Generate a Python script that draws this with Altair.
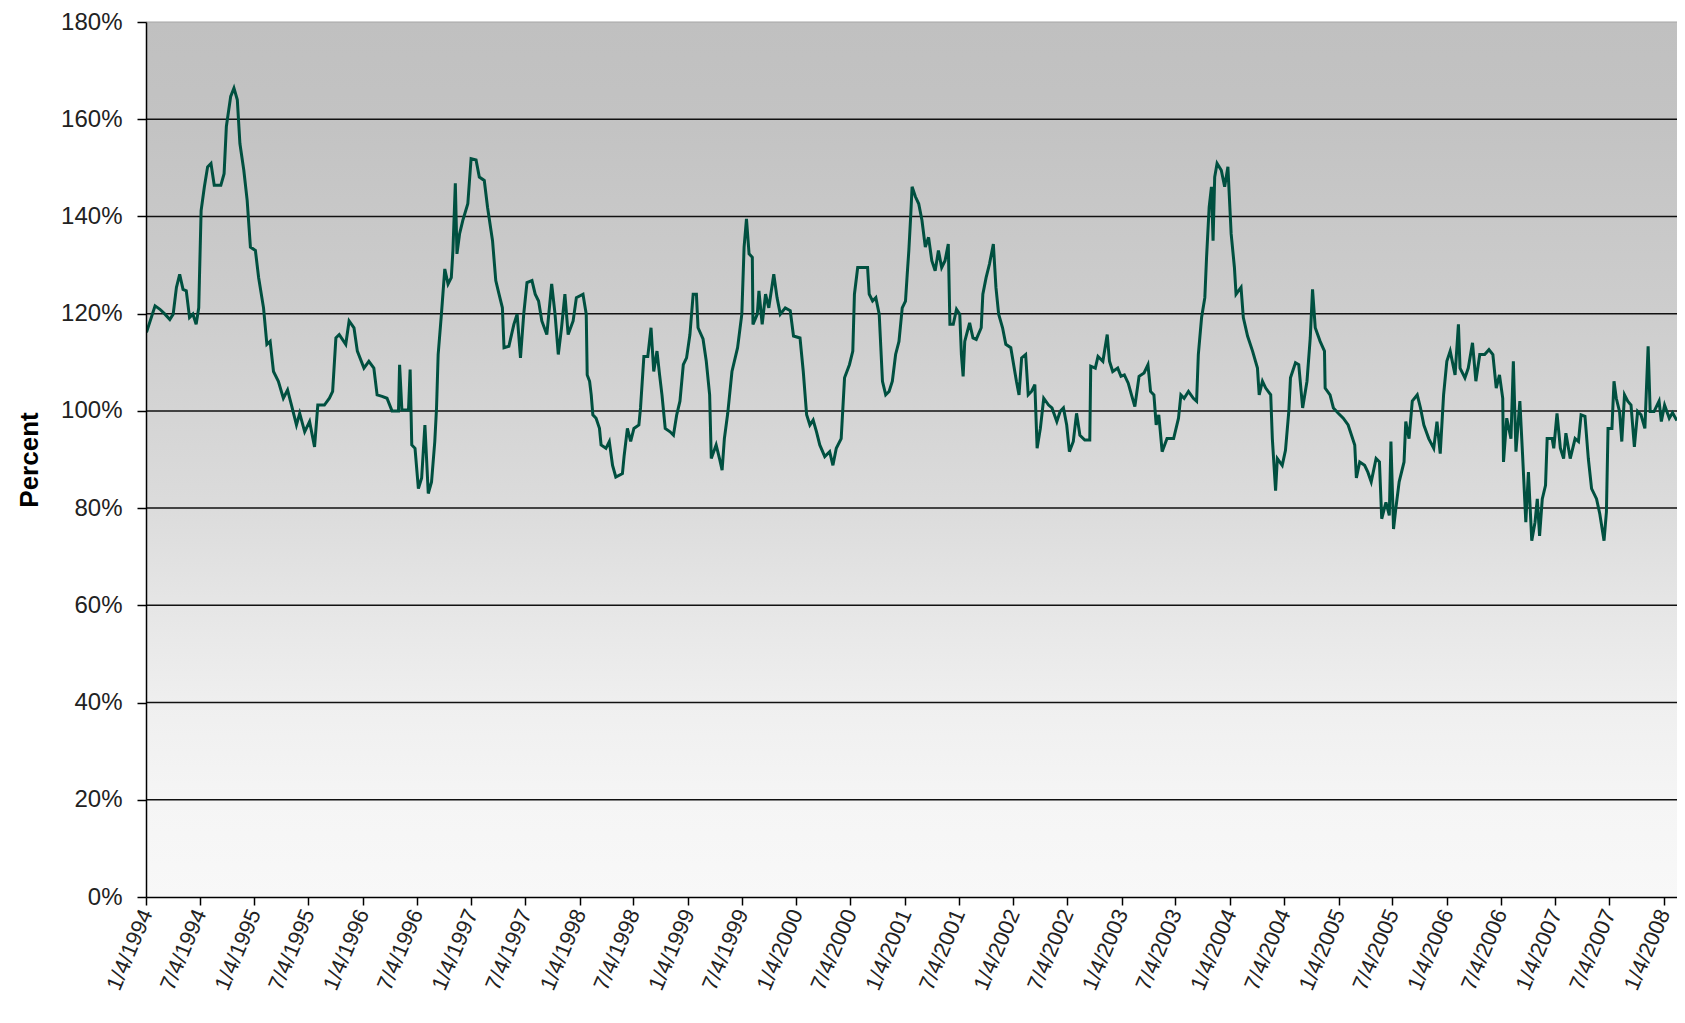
import altair as alt
import pandas as pd

years = [
    1994.000, 1994.016, 1994.092, 1994.137, 1994.183, 1994.228, 1994.259, 1994.289, 1994.319, 1994.350,
    1994.380, 1994.410, 1994.441, 1994.471, 1994.495, 1994.501, 1994.517, 1994.547, 1994.577, 1994.608,
    1994.638, 1994.699, 1994.729, 1994.750, 1994.790, 1994.820, 1994.851, 1994.875, 1994.911, 1994.942,
    1994.972, 1995.018, 1995.048, 1995.093, 1995.124, 1995.154, 1995.185, 1995.230, 1995.276, 1995.315,
    1995.351, 1995.397, 1995.427, 1995.473, 1995.518, 1995.564, 1995.594, 1995.655, 1995.701, 1995.731,
    1995.761, 1995.792, 1995.852, 1995.883, 1995.928, 1995.959,
    1996.020, 1996.065, 1996.111, 1996.141, 1996.187, 1996.232, 1996.278, 1996.338, 1996.348, 1996.369,
    1996.430, 1996.445, 1996.460, 1996.490, 1996.521, 1996.551, 1996.581, 1996.612, 1996.642, 1996.672,
    1996.688, 1996.703, 1996.733, 1996.764, 1996.794, 1996.824, 1996.839, 1996.861, 1996.876, 1996.900,
    1996.930, 1996.976, 1997.006, 1997.052, 1997.082, 1997.128, 1997.158, 1997.204, 1997.234, 1997.264,
    1997.295, 1997.310, 1997.355, 1997.401, 1997.431, 1997.462, 1997.492, 1997.522, 1997.568, 1997.598,
    1997.629, 1997.659, 1997.705, 1997.750, 1997.781, 1997.811, 1997.841, 1997.872, 1997.902, 1997.948,
    1997.978,
    1998.039, 1998.069, 1998.078, 1998.100, 1998.115, 1998.130, 1998.160, 1998.191, 1998.206, 1998.251,
    1998.282, 1998.312, 1998.342, 1998.403, 1998.418, 1998.449, 1998.479, 1998.509, 1998.555, 1998.570,
    1998.601, 1998.637, 1998.667, 1998.692, 1998.722, 1998.746, 1998.768, 1998.798, 1998.843, 1998.874,
    1998.904, 1998.934, 1998.965, 1998.995, 1999.026, 1999.056, 1999.086, 1999.101, 1999.147, 1999.177,
    1999.208, 1999.223, 1999.268, 1999.299, 1999.323, 1999.344, 1999.375, 1999.414, 1999.466, 1999.505,
    1999.526, 1999.548, 1999.572, 1999.602, 1999.608, 1999.648, 1999.663, 1999.693, 1999.724, 1999.754,
    1999.800, 1999.830, 1999.860, 1999.906, 1999.952, 1999.982,
    2000.042, 2000.072, 2000.103, 2000.133, 2000.163, 2000.194, 2000.224, 2000.270, 2000.315, 2000.345,
    2000.376, 2000.421, 2000.452, 2000.497, 2000.528, 2000.543, 2000.573, 2000.664, 2000.679, 2000.710,
    2000.740, 2000.771, 2000.801, 2000.831, 2000.862, 2000.892, 2000.922, 2000.953, 2000.983, 2001.013,
    2001.029, 2001.044, 2001.059, 2001.074, 2001.104, 2001.135, 2001.165, 2001.196, 2001.226, 2001.256,
    2001.287, 2001.317, 2001.347, 2001.378, 2001.408, 2001.423, 2001.454, 2001.484, 2001.514, 2001.529,
    2001.545, 2001.560, 2001.605, 2001.636, 2001.666, 2001.712, 2001.727, 2001.757, 2001.788, 2001.824,
    2001.848, 2001.873, 2001.909, 2001.939, 2001.985,
    2002.037, 2002.061, 2002.085, 2002.122, 2002.146, 2002.176, 2002.207, 2002.228, 2002.258, 2002.289,
    2002.334, 2002.365, 2002.410, 2002.441, 2002.471, 2002.501, 2002.526, 2002.562, 2002.592, 2002.623,
    2002.668, 2002.714, 2002.723, 2002.765, 2002.790, 2002.835, 2002.875, 2002.896, 2002.926, 2002.972,
    2003.002, 2003.033, 2003.069, 2003.099, 2003.130, 2003.169, 2003.215, 2003.251, 2003.275, 2003.306,
    2003.327, 2003.351, 2003.382, 2003.427, 2003.488, 2003.533, 2003.555, 2003.585, 2003.625, 2003.670,
    2003.700, 2003.716, 2003.746, 2003.776, 2003.792, 2003.816, 2003.837, 2003.852, 2003.867, 2003.889,
    2003.928, 2003.959, 2003.989,
    2004.019, 2004.049, 2004.064, 2004.110, 2004.131, 2004.170, 2004.216, 2004.261, 2004.277, 2004.307,
    2004.337, 2004.383, 2004.398, 2004.428, 2004.444, 2004.489, 2004.519, 2004.550, 2004.565, 2004.611,
    2004.641, 2004.677, 2004.717, 2004.747, 2004.768, 2004.793, 2004.838, 2004.878, 2004.884, 2004.929,
    2004.960, 2005.005, 2005.051, 2005.096, 2005.157, 2005.172, 2005.203, 2005.248, 2005.278, 2005.309,
    2005.354, 2005.385, 2005.406, 2005.445, 2005.476, 2005.491, 2005.515, 2005.536, 2005.567, 2005.612,
    2005.628, 2005.658, 2005.688, 2005.734, 2005.764, 2005.795, 2005.840, 2005.886, 2005.916, 2005.946,
    2005.977,
    2006.007, 2006.038, 2006.083, 2006.114, 2006.129, 2006.174, 2006.205, 2006.244, 2006.275, 2006.311,
    2006.356, 2006.396, 2006.432, 2006.463, 2006.493, 2006.523, 2006.530, 2006.560, 2006.599, 2006.621,
    2006.645, 2006.681, 2006.706, 2006.736, 2006.760, 2006.791, 2006.821, 2006.842, 2006.863, 2006.888,
    2006.918, 2006.933, 2006.979, 2006.994, 2007.024, 2007.055, 2007.085, 2007.106, 2007.146, 2007.191,
    2007.222, 2007.246, 2007.282, 2007.313, 2007.343, 2007.389, 2007.419, 2007.458, 2007.480, 2007.495,
    2007.531, 2007.550, 2007.571, 2007.601, 2007.622, 2007.647, 2007.677, 2007.707, 2007.738, 2007.768,
    2007.799, 2007.835, 2007.865, 2007.884, 2007.920, 2007.966, 2007.987, 2008.017, 2008.060, 2008.090,
    2008.130,
]

values = [
    116.0, 116.4, 121.6, 120.9, 119.9, 118.8, 119.9, 125.4, 128.1, 125.0,
    124.7, 119.2, 119.9, 117.8, 121.2, 126.8, 141.2, 146.1, 150.2, 150.9,
    146.4, 146.4, 148.8, 158.5, 164.7, 166.4, 164.0, 155.0, 149.5, 143.3,
    133.7, 133.0, 127.4, 121.2, 113.7, 114.3, 108.1, 106.1, 102.6, 104.3,
    101.2, 97.1, 99.5, 95.7, 97.8, 92.6, 101.2, 101.2, 102.6, 104.0,
    115.0, 115.7, 113.7, 118.5, 117.1, 112.3,
    108.8, 110.2, 108.8, 103.3, 103.0, 102.6, 100.0, 100.0, 109.5, 100.2,
    100.2, 108.5, 93.0, 92.3, 84.0, 86.2, 97.1, 83.0, 85.4, 93.7,
    100.6, 111.6, 119.9, 129.2, 126.1, 127.4, 133.0, 146.8, 132.3, 136.4,
    139.2, 142.6, 151.9, 151.6, 148.1, 147.4, 141.9, 135.0, 126.8, 124.0,
    121.2, 113.0, 113.3, 117.8, 119.9, 110.9, 119.9, 126.4, 126.8, 124.0,
    122.6, 118.5, 115.7, 126.1, 119.9, 111.6, 117.1, 124.0, 115.7, 118.5,
    123.3,
    124.0, 119.9, 107.4, 106.1, 103.3, 99.2, 98.5, 96.4, 93.0, 92.3,
    93.7, 88.8, 86.4, 87.1, 90.6, 96.4, 93.7, 96.4, 97.1, 100.6,
    111.2, 111.2, 117.1, 108.1, 112.3, 107.4, 103.3, 96.4, 95.7, 95.0,
    99.2, 102.0, 109.5, 110.9, 115.7, 124.0, 124.0, 117.1, 114.8, 110.2,
    103.3, 90.2, 93.0, 90.2, 87.8, 94.3, 99.5, 108.1, 113.0, 119.9,
    133.7, 139.5, 132.3, 131.6, 117.8, 119.9, 124.7, 117.8, 124.0, 121.2,
    128.1, 123.3, 119.9, 121.2, 120.6, 115.4,
    115.0, 108.1, 99.2, 97.1, 98.1, 95.7, 93.0, 90.6, 91.6, 88.8,
    92.3, 94.3, 106.8, 109.5, 112.3, 124.0, 129.5, 129.5, 124.0, 122.6,
    123.3, 119.9, 106.1, 103.3, 104.0, 106.1, 111.6, 114.3, 121.2, 122.6,
    128.1, 133.0, 139.2, 146.1, 144.1, 142.6, 139.2, 133.7, 135.7, 130.9,
    128.8, 133.0, 129.5, 130.9, 134.3, 117.8, 117.8, 120.9, 119.9, 111.6,
    107.1, 114.3, 118.1, 115.0, 114.7, 117.1, 124.0, 127.4, 130.2, 134.3,
    125.4, 119.9, 117.1, 113.7, 113.0,
    106.1, 103.3, 110.9, 111.6, 103.3, 104.0, 105.4, 92.3, 96.4, 102.6,
    101.2, 100.6, 97.8, 99.9, 100.6, 97.1, 91.6, 93.7, 99.5, 95.0,
    94.0, 94.0, 109.2, 108.8, 111.2, 110.2, 115.7, 110.2, 108.1, 108.8,
    107.1, 107.4, 105.7, 103.3, 100.9, 107.1, 107.8, 109.5, 104.0, 103.3,
    97.1, 99.2, 91.6, 94.3, 94.3, 98.5, 103.3, 102.6, 104.0, 102.6,
    102.0, 111.6, 119.2, 123.3, 131.6, 141.9, 146.1, 135.0, 148.1, 150.9,
    149.5, 146.1, 150.2,
    136.4, 129.5, 124.0, 125.4, 119.2, 115.4, 112.3, 108.8, 103.3, 106.1,
    104.7, 103.3, 94.3, 83.6, 90.2, 88.8, 91.9, 100.0, 106.8, 109.9,
    109.5, 100.6, 106.1, 115.0, 125.0, 117.1, 114.3, 112.3, 104.7, 103.3,
    100.6, 99.5, 98.5, 97.1, 93.0, 86.2, 89.5, 88.8, 87.4, 85.4,
    90.2, 89.5, 77.8, 81.2, 78.5, 93.7, 75.7, 79.9, 85.4, 89.5,
    97.8, 94.3, 102.0, 103.3, 100.6, 97.1, 94.3, 92.3, 97.8, 91.2,
    103.3,
    110.2, 112.3, 107.4, 117.8, 108.8, 106.8, 108.8, 114.0, 106.1, 111.6,
    111.6, 112.6, 111.6, 104.7, 107.4, 102.6, 89.5, 98.5, 94.3, 110.2,
    91.6, 102.0, 91.0, 77.1, 87.4, 73.3, 77.1, 81.9, 74.3, 81.9,
    84.7, 94.3, 94.3, 92.3, 99.5, 92.3, 90.2, 95.4, 90.2, 94.3,
    93.7, 99.2, 98.9, 90.2, 84.0, 81.9, 78.8, 73.3, 79.2, 96.4,
    96.4, 106.1, 102.6, 99.9, 93.7, 103.3, 102.0, 101.2, 92.6, 99.9,
    99.2, 96.4, 113.3, 99.9, 99.9, 102.0, 97.8, 101.2, 98.5, 99.6,
    98.0,
]

y_ticks = [0, 20, 40, 60, 80, 100, 120, 140, 160, 180]
grid_levels = [20, 40, 60, 80, 100, 120, 140, 160]
tick_years = list(range(1994, 2009))
tick_months = [1, 7]


def to_iso(y):
    yr = int(y)
    start = pd.Timestamp(year=yr, month=1, day=1)
    end = pd.Timestamp(year=yr + 1, month=1, day=1)
    return (start + (end - start) * (y - yr)).strftime("%Y-%m-%dT%H:%M:%S")


line_df = pd.DataFrame({"date": [to_iso(y) for y in years], "value": values})
grid_df = pd.DataFrame({"value": grid_levels})
top_df = pd.DataFrame({"value": [180]})
bg_df = pd.DataFrame({
    "date": ["1994-01-04T00:00:00"], "date_end": ["2008-02-18T00:00:00"],
    "value": [0], "value_end": [180],
})

tick_dates = [alt.DateTime(year=y, month=m, date=4)
              for y in tick_years for m in tick_months if not (y == 2008 and m == 7)]

FONT = "Liberation Sans"

x_scale = alt.Scale(domain=[alt.DateTime(year=1994, month=1, date=4),
                            alt.DateTime(year=2008, month=2, date=18)], nice=False)
y_scale = alt.Scale(domain=[0, 180], nice=False, zero=True)

x_axis = alt.Axis(values=tick_dates, format="%-m/%-d/%Y", labelAngle=293,
                  labelPadding=5, tickSize=8, title=None, grid=False,
                  labelFont=FONT, labelFontSize=22, labelColor="#222222",
                  domainColor="#000000", domainWidth=1.5, tickColor="#000000",
                  tickWidth=1.5, labelOverlap=False, zindex=2)
y_axis = alt.Axis(values=y_ticks, labelExpr="datum.value + '%'", tickSize=9,
                  labelPadding=15, grid=False, title="Percent",
                  labelFont=FONT, labelFontSize=24, labelColor="#222222",
                  domainColor="#000000", domainWidth=1.5, tickColor="#000000",
                  tickWidth=1.5, titleFont=FONT, titleFontSize=26,
                  titleFontWeight="bold", titleColor="#000000", titleAngle=270,
                  titleX=-109, titleY=437.5, titleAlign="center",
                  titleBaseline="alphabetic", zindex=2)

gradient = alt.Gradient(
    gradient="linear", x1=0, y1=0, x2=0, y2=1,
    stops=[
        alt.GradientStop(offset=0.0, color="#c0c0c0"),
        alt.GradientStop(offset=0.12, color="#c3c3c3"),
        alt.GradientStop(offset=0.33, color="#cdcdcd"),
        alt.GradientStop(offset=0.44, color="#d4d4d4"),
        alt.GradientStop(offset=0.56, color="#dcdcdc"),
        alt.GradientStop(offset=0.67, color="#e6e6e6"),
        alt.GradientStop(offset=0.78, color="#efefef"),
        alt.GradientStop(offset=0.89, color="#f5f5f5"),
        alt.GradientStop(offset=1.0, color="#f8f8f8"),
    ],
)

bg = alt.Chart(bg_df).mark_rect(fill=gradient).encode(
    x=alt.X("date:T", scale=x_scale, axis=x_axis),
    x2="date_end:T",
    y=alt.Y("value:Q", scale=y_scale, axis=y_axis),
    y2="value_end:Q",
)

grid = alt.Chart(grid_df).mark_rule(color="#111111", strokeWidth=1.5).encode(
    y=alt.Y("value:Q", scale=y_scale, axis=y_axis),
)

top = alt.Chart(top_df).mark_rule(color="#a6a6a6", strokeWidth=1.2).encode(
    y=alt.Y("value:Q", scale=y_scale, axis=y_axis),
)

line = alt.Chart(line_df).mark_line(color="#005040", strokeWidth=3, clip=True).encode(
    x=alt.X("date:T", scale=x_scale, axis=x_axis),
    y=alt.Y("value:Q", scale=y_scale, axis=y_axis),
)

chart = alt.layer(bg, grid, top, line).properties(
    width=1531,
    height=875,
    autosize=alt.AutoSizeParams(type="none"),
    padding={"left": 138, "top": 14, "right": 0, "bottom": 111},
    background="#ffffff",
).configure_view(stroke=None)

chart.save("out.html", embed_options={"renderer": "svg", "actions": False})
